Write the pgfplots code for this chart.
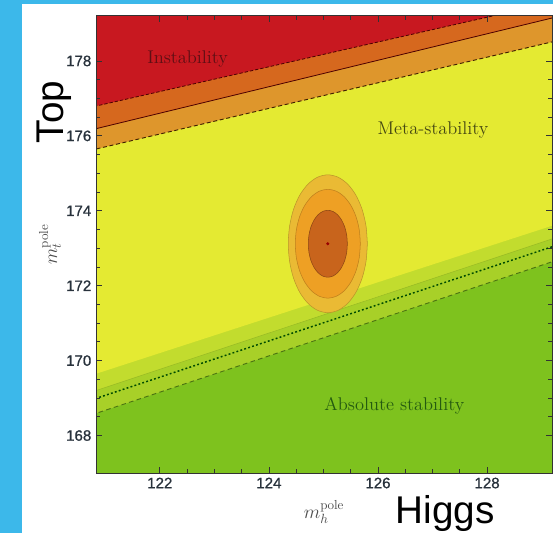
\documentclass[border=0pt]{standalone}
\usepackage{pgfplots}
\pgfplotsset{compat=1.18}
\usepackage{fontspec}
\newfontfamily\arial{Liberation Sans}
\newfontfamily\tickfont{Liberation Sans}[FakeBold=0.9]
\definecolor{bgblue}{RGB}{60,184,234}
\definecolor{cRed}{RGB}{200,24,32}
\definecolor{cDOr}{RGB}{214,104,30}
\definecolor{cOr}{RGB}{222,150,44}
\definecolor{cYel}{RGB}{228,234,50}
\definecolor{cLGa}{RGB}{194,220,46}
\definecolor{cLGb}{RGB}{168,208,40}
\definecolor{cGr}{RGB}{126,194,30}
\definecolor{eOut}{RGB}{234,186,52}
\definecolor{eMid}{RGB}{238,160,36}
\definecolor{eIn}{RGB}{200,100,28}
\definecolor{tickc}{RGB}{40,50,60}
\begin{document}
\begin{tikzpicture}
\fill[bgblue] (0pt,0pt) rectangle (414.75pt,399.75pt);
\fill[white] (16.5pt,0pt) rectangle (414.75pt,396.75pt);
\useasboundingbox (0pt,0pt) rectangle (414.75pt,399.75pt);
\begin{axis}[
  at={(72pt,45pt)}, anchor=south west,
  width=342pt, height=342.75pt, scale only axis,
  xmin=120.83, xmax=129.19, ymin=167.0, ymax=179.2,
  xtick={122,124,126,128}, ytick={168,170,172,174,176,178},
  minor x tick num=3, minor y tick num=3,
  major tick length=4.5pt, minor tick length=2.8pt,
  tick style={color=black!80, line width=0.6pt},
  axis line style={color=black!80, line width=0.75pt},
  /pgf/number format/assume math mode=true,
  ticklabel style={font=\tickfont\fontsize{11.3}{13}\selectfont, color=tickc},
  xlabel={$m_h^{\mathrm{pole}}$}, ylabel={$m_t^{\mathrm{pole}}$},
  label style={font=\fontsize{14}{17}\selectfont, color=black!70},
  x label style={at={(axis description cs:0.5,-0.085)}, anchor=center},
  y label style={at={(axis description cs:-0.101,0.5)}, anchor=center},
  axis on top,
]
% background regions
\addplot[fill=cGr, draw=none] coordinates {(120.6,166) (129.4,166) (129.4,180) (120.6,180)} -- cycle;
\addplot[fill=cLGb, draw=none] coordinates {(120.6,168.48) (129.4,172.74) (129.4,180) (120.6,180)} -- cycle;
\addplot[fill=cLGa, draw=none] coordinates {(120.6,169.09) (129.4,173.35) (129.4,180) (120.6,180)} -- cycle;
\addplot[fill=cYel, draw=none] coordinates {(120.6,169.54) (129.4,173.70) (129.4,180) (120.6,180)} -- cycle;
\addplot[fill=cOr, draw=none] coordinates {(120.6,175.57) (129.4,178.58) (129.4,180) (120.6,180)} -- cycle;
\addplot[fill=cDOr, draw=none] coordinates {(120.6,176.11) (129.4,179.22) (129.4,180) (120.6,180)} -- cycle;
\addplot[fill=cRed, draw=none] coordinates {(120.6,176.72) (129.4,179.63) (129.4,180) (120.6,180)} -- cycle;
% boundary lines
\addplot[color=black!70!red, line width=0.6pt, dash pattern=on 2.5pt off 1.5pt] coordinates {(120.6,176.72) (129.4,179.63)};
\addplot[color=black!70!red, line width=0.6pt] coordinates {(120.6,176.11) (129.4,179.22)};
\addplot[color=black!75!orange, line width=0.7pt, dash pattern=on 3pt off 2pt] coordinates {(120.6,175.57) (129.4,178.58)};
\addplot[color=cLGb!90!black, line width=0.4pt] coordinates {(120.6,169.09) (129.4,173.35)};
\addplot[color=black!40!green!50!black, line width=1.1pt, dash pattern=on 1.4pt off 1.7pt] coordinates {(120.6,168.88) (129.4,173.14)};
\addplot[color=cGr!60!black, line width=0.7pt, dash pattern=on 3.5pt off 2.5pt] coordinates {(120.6,168.48) (129.4,172.74)};
% ellipses
\addplot[fill=eOut, draw=eOut!80!black, line width=0.4pt, smooth] coordinates {
(125.805,173.120) (125.780,173.596) (125.708,174.040) (125.593,174.421) (125.443,174.713) (125.268,174.897)
(125.080,174.960) (124.892,174.897) (124.718,174.713) (124.567,174.421) (124.452,174.040) (124.380,173.596)
(124.355,173.120) (124.380,172.644) (124.452,172.200) (124.567,171.819) (124.718,171.527) (124.892,171.343)
(125.080,171.280) (125.268,171.343) (125.443,171.527) (125.593,171.819) (125.708,172.200) (125.780,172.644)
(125.805,173.120)} -- cycle;
\addplot[fill=eMid, draw=eMid!80!black, line width=0.4pt, smooth] coordinates {
(125.676,173.120) (125.656,173.496) (125.596,173.847) (125.501,174.147) (125.378,174.378) (125.234,174.524)
(125.080,174.573) (124.926,174.524) (124.782,174.378) (124.659,174.147) (124.564,173.847) (124.504,173.496)
(124.484,173.120) (124.504,172.744) (124.564,172.393) (124.659,172.093) (124.782,171.862) (124.926,171.717)
(125.080,171.667) (125.234,171.717) (125.378,171.862) (125.501,172.093) (125.596,172.393) (125.656,172.744)
(125.676,173.120)} -- cycle;
\addplot[fill=eIn, draw=eIn!70!black, line width=0.4pt, smooth] coordinates {
(125.438,173.120) (125.426,173.351) (125.390,173.567) (125.333,173.751) (125.259,173.893) (125.173,173.983)
(125.080,174.013) (124.987,173.983) (124.901,173.893) (124.827,173.751) (124.770,173.567) (124.734,173.351)
(124.722,173.120) (124.734,172.889) (124.770,172.673) (124.827,172.489) (124.901,172.347) (124.987,172.257)
(125.080,172.227) (125.173,172.257) (125.259,172.347) (125.333,172.489) (125.390,172.673) (125.426,172.889)
(125.438,173.120)} -- cycle;
\addplot[only marks, mark=*, mark size=0.9pt, color=black!40!red] coordinates {(125.08,173.12)};
% region labels
\node[font=\fontsize{13.8}{16}\selectfont, color={rgb,255:red,95;green,15;blue,20}] at (axis cs:122.51,178.05) {Instability};
\node[font=\fontsize{13.8}{16}\selectfont, color={rgb,255:red,70;green,72;blue,18}] at (axis cs:127.01,176.15) {Meta-stability};
\node[font=\fontsize{13.8}{16}\selectfont, color={rgb,255:red,36;green,90;blue,16}] at (axis cs:126.30,168.80) {Absolute stability};
\end{axis}
\node[font=\arial\fontsize{29}{34}\selectfont, anchor=base] at (333.75pt,7.5pt) {Higgs};
\node[font=\arial\fontsize{29}{34}\selectfont, anchor=base, rotate=90] at (47.25pt,315.75pt) {Top};
\end{tikzpicture}
\end{document}
